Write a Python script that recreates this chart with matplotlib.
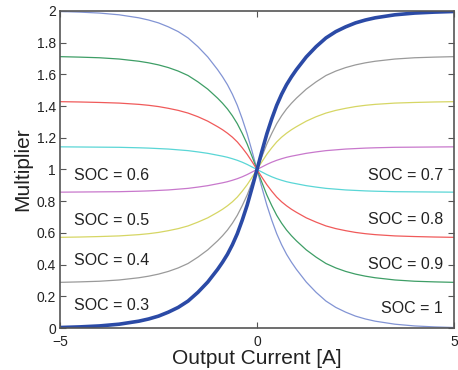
import matplotlib
matplotlib.use("Agg")
import matplotlib.pyplot as plt

plt.rcParams['font.family'] = ['Liberation Sans', 'DejaVu Sans']

# Output current [A]
current = [-5, -4.5, -4, -3.5, -3, -2.75, -2.5, -2.25, -2, -1.75, -1.5, -1.25, -1,
           -0.875, -0.75, -0.625, -0.5, -0.375, -0.25, -0.125, 0,
           0.125, 0.25, 0.375, 0.5, 0.625, 0.75, 0.875, 1,
           1.25, 1.5, 1.75, 2, 2.25, 2.5, 2.75, 3, 3.5, 4, 4.5, 5]

# Multiplier curves
thick_blue = [0.003, 0.007, 0.013, 0.024, 0.043, 0.057, 0.075, 0.10, 0.13, 0.17, 0.225, 0.29, 0.37,
              0.415, 0.465, 0.525, 0.595, 0.68, 0.775, 0.885, 1.0,
              1.115, 1.225, 1.32, 1.405, 1.475, 1.535, 1.585, 1.63,
              1.71, 1.775, 1.83, 1.87, 1.9, 1.925, 1.943, 1.957, 1.976, 1.987, 1.993, 1.997]
thin_blue = [1.997, 1.993, 1.987, 1.976, 1.957, 1.943, 1.925, 1.9, 1.87, 1.83, 1.775, 1.71, 1.63,
             1.585, 1.535, 1.475, 1.405, 1.32, 1.225, 1.115, 1.0,
             0.885, 0.775, 0.68, 0.595, 0.525, 0.465, 0.415, 0.37,
             0.29, 0.225, 0.17, 0.13, 0.10, 0.075, 0.057, 0.043, 0.024, 0.013, 0.007, 0.003]
gray = [0.288, 0.291, 0.295, 0.303, 0.317, 0.327, 0.340, 0.357, 0.379, 0.407, 0.447, 0.493, 0.550,
        0.582, 0.618, 0.661, 0.711, 0.772, 0.839, 0.918, 1.0,
        1.082, 1.161, 1.228, 1.289, 1.339, 1.382, 1.418, 1.450,
        1.507, 1.553, 1.593, 1.621, 1.643, 1.660, 1.673, 1.683, 1.697, 1.705, 1.709, 1.712]
green = [1.712, 1.709, 1.705, 1.697, 1.683, 1.673, 1.660, 1.643, 1.621, 1.593, 1.553, 1.507, 1.450,
         1.418, 1.382, 1.339, 1.289, 1.228, 1.161, 1.082, 1.0,
         0.918, 0.839, 0.772, 0.711, 0.661, 0.618, 0.582, 0.550,
         0.493, 0.447, 0.407, 0.379, 0.357, 0.340, 0.327, 0.317, 0.303, 0.295, 0.291, 0.288]
yellow = [0.572, 0.574, 0.577, 0.581, 0.589, 0.595, 0.603, 0.614, 0.627, 0.644, 0.668, 0.695, 0.730,
          0.749, 0.771, 0.796, 0.826, 0.863, 0.904, 0.951, 1.0,
          1.049, 1.096, 1.137, 1.174, 1.204, 1.229, 1.251, 1.270,
          1.305, 1.333, 1.356, 1.373, 1.386, 1.397, 1.405, 1.411, 1.419, 1.423, 1.426, 1.428]
red = [1.428, 1.426, 1.423, 1.419, 1.411, 1.405, 1.397, 1.386, 1.373, 1.356, 1.333, 1.305, 1.270,
       1.251, 1.229, 1.204, 1.174, 1.137, 1.096, 1.049, 1.0,
       0.951, 0.904, 0.863, 0.826, 0.796, 0.771, 0.749, 0.730,
       0.695, 0.668, 0.644, 0.627, 0.614, 0.603, 0.595, 0.589, 0.581, 0.577, 0.574, 0.572]
magenta = [0.857, 0.858, 0.859, 0.860, 0.863, 0.865, 0.868, 0.871, 0.876, 0.881, 0.889, 0.898, 0.910,
           0.916, 0.923, 0.932, 0.942, 0.954, 0.968, 0.984, 1.0,
           1.016, 1.032, 1.046, 1.058, 1.068, 1.077, 1.084, 1.090,
           1.102, 1.111, 1.119, 1.124, 1.129, 1.132, 1.135, 1.137, 1.140, 1.141, 1.142, 1.143]
cyan = [1.143, 1.142, 1.141, 1.140, 1.137, 1.135, 1.132, 1.129, 1.124, 1.119, 1.111, 1.102, 1.090,
        1.084, 1.077, 1.068, 1.058, 1.046, 1.032, 1.016, 1.0,
        0.984, 0.968, 0.954, 0.942, 0.932, 0.923, 0.916, 0.910,
        0.898, 0.889, 0.881, 0.876, 0.871, 0.868, 0.865, 0.863, 0.860, 0.859, 0.858, 0.857]

left_labels = ["SOC = 0.6", "SOC = 0.5", "SOC = 0.4", "SOC = 0.3"]
left_label_y = [0.96, 0.68, 0.425, 0.145]
right_labels = ["SOC = 0.7", "SOC = 0.8", "SOC = 0.9", "SOC = 1"]
right_label_y = [0.96, 0.685, 0.40, 0.125]

x_ticks = [-5, 0, 5]
x_tick_labels = ["\u22125", "0", "5"]
y_ticks = [0, 0.2, 0.4, 0.6, 0.8, 1, 1.2, 1.4, 1.6, 1.8, 2]
y_tick_labels = ["0", "0.2", "0.4", "0.6", "0.8", "1", "1.2", "1.4", "1.6", "1.8", "2"]

fig = plt.figure(figsize=(4.58, 3.70), dpi=100)
ax = fig.add_axes([60/458, 42/370, 394/458, 317/370])

series = [
    (thin_blue, '#8294d4', 0.9),
    (green, '#3e9e66', 0.9),
    (red, '#f05a5a', 0.9),
    (cyan, '#5ad6d6', 0.9),
    (magenta, '#c878cc', 0.9),
    (yellow, '#d6d664', 0.9),
    (gray, '#9a9a9a', 0.9),
    (thick_blue, '#2b4aa6', 2.6),
]
for ys, c, lw in series:
    ax.plot(current, ys, color=c, lw=lw, solid_joinstyle='round')

for t, y in zip(left_labels, left_label_y):
    ax.text(-4.64, y, t, fontsize=11.5, color='#222222', ha='left', va='center')
for t, y in zip(right_labels, right_label_y):
    ax.text(4.72, y, t, fontsize=11.5, color='#222222', ha='right', va='center')

ax.set_xlim(-5, 5)
ax.set_ylim(0, 2)
ax.set_xticks(x_ticks)
ax.set_xticklabels(x_tick_labels)
ax.set_yticks(y_ticks)
ax.set_yticklabels(y_tick_labels)
ax.tick_params(direction='in', length=4, width=0.8, color='#555555',
               labelsize=10, labelcolor='#222222', top=True, right=True)
ax.tick_params(axis='y', pad=3)
ax.tick_params(axis='x', pad=5)
for s in ax.spines.values():
    s.set_color('#555555')
    s.set_linewidth(1.2)
ax.set_xlabel("Output Current [A]", fontsize=15, color='#222222', labelpad=0)
ax.set_ylabel("Multiplier", fontsize=15, color='#222222', labelpad=3)

fig.savefig("out.png", dpi=100)
